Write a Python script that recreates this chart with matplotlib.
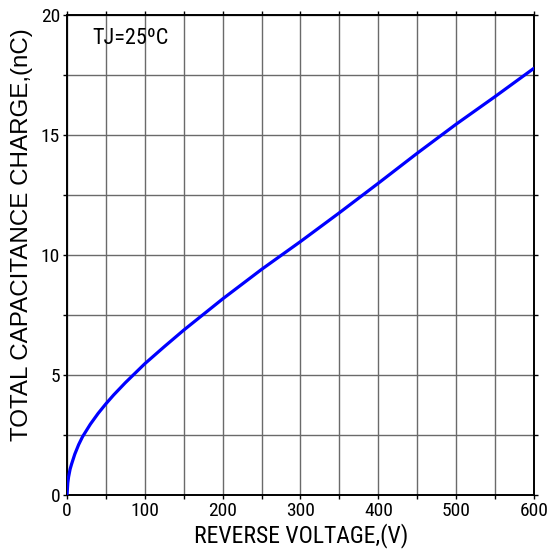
import matplotlib
matplotlib.use("Agg")
import matplotlib.pyplot as plt
from matplotlib.ticker import MultipleLocator
from matplotlib import font_manager

voltage = [0, 1, 2, 4, 6, 10, 15, 20, 30, 40, 50, 60, 75, 100, 125, 150, 175, 200,
           250, 300, 350, 400, 450, 500, 550, 600]
charge = [0, 0.5, 0.75, 1.08, 1.3, 1.7, 2.1, 2.43, 2.95, 3.4, 3.8, 4.17, 4.68, 5.47,
          6.18, 6.87, 7.52, 8.17, 9.4, 10.56, 11.76, 12.99, 14.24, 15.45, 16.6, 17.78]

# pick a narrow face if one is installed
fonts = font_manager.fontManager.ttflist
installed = {f.name for f in fonts}
narrow_family = None
narrow_stretch = 'normal'
for cand in ['Liberation Sans Narrow', 'Roboto Condensed', 'DejaVu Sans Condensed',
             'Open Sans Condensed', 'Noto Sans Condensed']:
    if cand in installed:
        narrow_family = cand
        break
if narrow_family is None:
    for f in fonts:
        if f.name in ('DejaVu Sans', 'Noto Sans', 'Roboto', 'Open Sans') and \
                ('Condensed' in f.fname or 'Narrow' in f.fname):
            narrow_family = f.name
            narrow_stretch = 'condensed'
            break
if narrow_family is None:
    narrow_family = 'Liberation Sans'
    scale = 0.88
else:
    scale = 1.0

narrow = [narrow_family, 'DejaVu Sans']
wide = ['Liberation Sans', 'DejaVu Sans']

fig = plt.figure(figsize=(5.51, 5.59), dpi=100)
ax = fig.add_axes([0.1216, 0.1145, 0.9691 - 0.1216, 0.9732 - 0.1145])

ax.plot(voltage, charge, color='#0000ff', linewidth=2.3, solid_capstyle='round',
        solid_joinstyle='round', zorder=3)

ax.set_xlim(0, 600)
ax.set_ylim(0, 20)
ax.xaxis.set_major_locator(MultipleLocator(100))
ax.xaxis.set_minor_locator(MultipleLocator(50))
ax.yaxis.set_major_locator(MultipleLocator(5))
ax.yaxis.set_minor_locator(MultipleLocator(2.5))
ax.grid(True, which='both', color='#6a6a6a', linewidth=1.0)
ax.set_axisbelow(True)

ax.tick_params(which='both', direction='out', length=3, width=1, top=True, right=True,
               colors='black', labelsize=14 * scale, pad=2)
for lab in ax.get_xticklabels() + ax.get_yticklabels():
    lab.set_family(narrow)
    lab.set_fontstretch(narrow_stretch)

for s in ax.spines.values():
    s.set_color('black')
    s.set_linewidth(1.4)

ax.set_xlabel('REVERSE VOLTAGE,(V)', family=narrow, fontstretch=narrow_stretch,
              fontsize=17 * scale)
ax.xaxis.set_label_coords(0.501, -0.0585)
ax.xaxis.label.set_va('top')
ax.set_ylabel('TOTAL CAPACITANCE CHARGE,(nC)', family=wide, fontsize=17.4)
ax.yaxis.set_label_coords(-0.096, 0.542)
ax.yaxis.label.set_va('center')

ax.text(0.054, 0.972, 'TJ=25ºC', transform=ax.transAxes, family=narrow,
        fontstretch=narrow_stretch, fontsize=16 * scale, ha='left', va='top')

fig.savefig('out.png', dpi=100)
